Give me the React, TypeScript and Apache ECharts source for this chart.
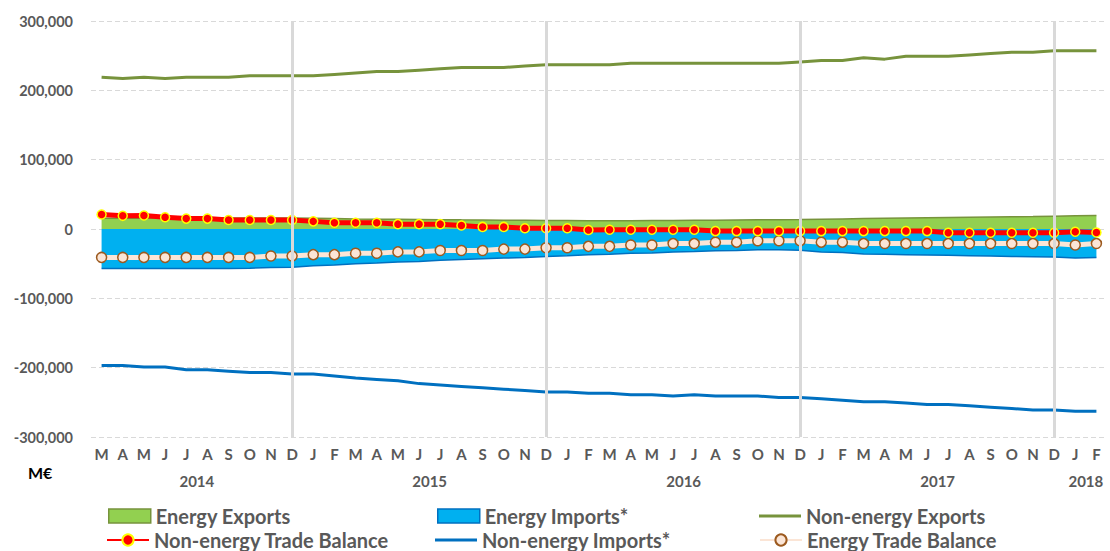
import React, { useEffect, useRef } from "react";
import * as echarts from "echarts";

const months = [
  "M", "A", "M", "J", "J", "A", "S", "O", "N", "D",
  "J", "F", "M", "A", "M", "J", "J", "A", "S", "O", "N", "D",
  "J", "F", "M", "A", "M", "J", "J", "A", "S", "O", "N", "D",
  "J", "F", "M", "A", "M", "J", "J", "A", "S", "O", "N", "D",
  "J", "F",
];

// year label and the half-month slot (of 96) at which it is centred
const years = ["2014", "2015", "2016", "2017", "2018"];
const yearSlots = [10, 32, 56, 80, 94];

const energyExports = [
  15500, 15500, 15600, 15700, 15800, 15900, 16000, 16000, 16000, 16000,
  15500, 15000, 14500, 14200, 14000, 13800, 13500, 13200, 13000, 12800, 12600, 12400,
  12200, 12000, 12000, 12000, 12200, 12400, 12600, 12800, 13000, 13200, 13500, 13800,
  14200, 14600, 15000, 15400, 15800, 16200, 16500, 16800, 17200, 17600, 18000, 18500,
  19000, 19300,
];

const energyImports = [
  -57000, -57000, -57000, -57000, -57000, -57000, -57000, -56500, -55500, -55000,
  -53000, -52000, -50000, -49000, -47500, -47000, -45000, -44000, -43000, -42000, -41000, -39500,
  -38500, -37000, -36500, -35000, -34500, -33000, -32500, -31500, -31000, -30000, -30000, -30500,
  -33000, -34000, -36000, -36500, -37000, -37500, -38000, -38500, -39000, -39500, -40000, -40500,
  -42000, -41000,
];

const nonEnergyExports = [
  219000, 217000, 219000, 217000, 219000, 219000, 219000, 221000, 221000, 221000,
  221000, 223000, 225000, 227000, 227000, 229000, 231000, 233000, 233000, 233000, 235000, 237000,
  237000, 237000, 237000, 239000, 239000, 239000, 239000, 239000, 239000, 239000, 239000, 241000,
  243000, 243000, 247000, 245000, 249000, 249000, 249000, 251000, 253000, 255000, 255000, 257000,
  257000, 257000,
];

const nonEnergyImports = [
  -197000, -197000, -199000, -199000, -203000, -203000, -205000, -207000, -207000, -209000,
  -209000, -212000, -215000, -217000, -219000, -223000, -225000, -227000, -229000, -231000, -233000, -235000,
  -235000, -237000, -237000, -239000, -239000, -241000, -239000, -241000, -241000, -241000, -243000, -243000,
  -245000, -247000, -249000, -249000, -251000, -253000, -253000, -255000, -257000, -259000, -261000, -261000,
  -263000, -263000,
];

const nonEnergyBalance = [
  21000, 19000, 19500, 17000, 15000, 15000, 13000, 13000, 13000, 13000,
  11000, 9000, 9000, 9000, 7000, 7000, 7000, 5000, 3000, 3000, 1000, 1000,
  1000, -1500, -1000, -1000, -1000, -1000, -1000, -3000, -3000, -3000, -3000, -3000,
  -3000, -3000, -3000, -3000, -3000, -3000, -5500, -5500, -5500, -5500, -5500, -5500,
  -4000, -5000,
];

const energyBalance = [
  -41000, -41000, -41000, -41000, -41000, -41000, -41000, -41000, -39000, -39000,
  -37000, -37000, -35000, -35000, -33000, -33000, -31000, -31000, -31000, -29000, -29000, -27000,
  -27000, -25000, -25000, -23000, -23000, -21000, -21000, -19000, -19000, -17000, -17000, -17000,
  -19000, -19000, -21000, -21000, -21000, -21000, -21000, -21000, -21000, -21000, -21000, -21000,
  -23000, -21000,
];

// indices of December (year boundaries) where grey vertical lines are drawn
const decemberIdx = [9, 21, 33, 45];

const FONT = "Lato, 'Open Sans', sans-serif";
const GREY = "#595959";

export default function App() {
  const ref = useRef<HTMLDivElement>(null);

  useEffect(() => {
    if (!ref.current) return;
    const chart = echarts.init(ref.current, undefined, { renderer: "svg" });

    const yearAxisData: string[] = [];
    for (let k = 0; k <= months.length * 2; k++) {
      const j = yearSlots.indexOf(k);
      yearAxisData.push(j >= 0 ? years[j] : "");
    }

    const legendText = {
      fontSize: 20,
      fontWeight: "bold" as const,
      color: GREY,
      fontFamily: FONT,
      lineHeight: 20,
    };
    const mkLegend = (left: number, top: number, item: any, itemHeight = 14) => ({
      orient: "horizontal" as const,
      left,
      top,
      itemWidth: 42,
      itemHeight,
      itemGap: 4,
      padding: 0,
      textStyle: legendText,
      selectedMode: false,
      data: [item],
    });

    const row1 = 506;
    const row2 = 530;

    chart.setOption({
      animation: false,
      textStyle: { fontFamily: FONT },
      grid: { left: 91, right: 1, top: 21, bottom: 114, containLabel: false },
      xAxis: [
        {
          type: "category",
          data: months,
          boundaryGap: true,
          position: "bottom",
          axisLine: { show: false, onZero: false },
          axisTick: { show: false },
          splitLine: { show: false },
          axisLabel: {
            interval: 0,
            margin: 9,
            fontSize: 15,
            fontWeight: "bold",
            color: GREY,
            fontFamily: FONT,
          },
        },
        {
          type: "category",
          data: yearAxisData,
          boundaryGap: false,
          position: "bottom",
          axisLine: { show: false, onZero: false },
          axisTick: { show: false },
          splitLine: { show: false },
          axisLabel: {
            interval: 0,
            margin: 36,
            fontSize: 15,
            fontWeight: "bold",
            color: GREY,
            fontFamily: FONT,
          },
        },
      ],
      yAxis: {
        type: "value",
        min: -300000,
        max: 300000,
        interval: 100000,
        axisLine: { show: false },
        axisTick: { show: false },
        splitLine: { lineStyle: { color: "#d9d9d9", type: [5, 3], width: 1 } },
        axisLabel: {
          margin: 18,
          fontSize: 14.5,
          fontWeight: "bold",
          color: GREY,
          fontFamily: FONT,
          formatter: (v: number) => v.toLocaleString("en-US"),
        },
      },
      legend: [
        mkLegend(108, row1, { name: "Energy Exports", icon: "rect", itemStyle: { color: "#92d050", borderColor: "#77933c", borderWidth: 1.5 } }),
        mkLegend(106, row2, "Non-energy Trade Balance"),
        mkLegend(437, row1, { name: "Energy Imports*", icon: "rect", itemStyle: { color: "#00b0f0", borderColor: "#0070c0", borderWidth: 1.5 } }),
        mkLegend(435, row2, { name: "Non-energy Imports*", icon: "rect", itemStyle: { color: "#0070c0", borderWidth: 0 } }, 3),
        mkLegend(759, row1, { name: "Non-energy Exports", icon: "rect", itemStyle: { color: "#77933c", borderWidth: 0 } }, 3),
        mkLegend(759, row2, "Energy Trade Balance"),
      ],
      graphic: [
        {
          type: "text",
          left: 28,
          top: 464,
          style: { text: "M€", fontSize: 16, fontWeight: "bold", fill: "#000", fontFamily: FONT },
        },
      ],
      series: [
        {
          name: "Energy Exports",
          type: "line",
          data: energyExports,
          showSymbol: false,
          symbol: "none",
          z: 1,
          itemStyle: { color: "#92d050", borderColor: "#77933c" },
          lineStyle: { color: "#77933c", width: 1.5 },
          areaStyle: { color: "#92d050", opacity: 1 },
        },
        {
          name: "Energy Imports*",
          type: "line",
          data: energyImports,
          showSymbol: false,
          symbol: "none",
          z: 1,
          itemStyle: { color: "#00b0f0", borderColor: "#0070c0" },
          lineStyle: { color: "#0070c0", width: 1.5 },
          areaStyle: { color: "#00b0f0", opacity: 1 },
        },
        {
          name: "yearLines",
          type: "line",
          data: [],
          z: 2,
          silent: true,
          markLine: {
            silent: true,
            symbol: "none",
            label: { show: false },
            lineStyle: { color: "#d9d9d9", type: "solid", width: 3 },
            data: decemberIdx.map((i) => ({ xAxis: i })),
          },
        },
        {
          name: "Non-energy Exports",
          type: "line",
          data: nonEnergyExports,
          symbol: "none",
          z: 3,
          itemStyle: { color: "#77933c" },
          lineStyle: { color: "#77933c", width: 3 },
        },
        {
          name: "Non-energy Imports*",
          type: "line",
          data: nonEnergyImports,
          symbol: "none",
          z: 3,
          itemStyle: { color: "#0070c0" },
          lineStyle: { color: "#0070c0", width: 3 },
        },
        {
          name: "Energy Trade Balance",
          type: "line",
          data: energyBalance,
          symbol: "circle",
          symbolSize: 10,
          z: 4,
          itemStyle: { color: "#fbe5d6", borderColor: "#9c5a1f", borderWidth: 1.5 },
          lineStyle: { color: "#fbe5d6", width: 5 },
        },
        {
          name: "Non-energy Trade Balance",
          type: "line",
          data: nonEnergyBalance,
          symbol: "circle",
          symbolSize: 9,
          z: 4,
          itemStyle: { color: "#ff0000", borderColor: "#ffff00", borderWidth: 1.5 },
          lineStyle: { color: "#ff0000", width: 5 },
        },
      ],
    });

    return () => chart.dispose();
  }, []);

  return (
    <div
      ref={ref}
      style={{ position: "fixed", left: 0, top: 0, width: 1110, height: 551, background: "#fff" }}
    />
  );
}
